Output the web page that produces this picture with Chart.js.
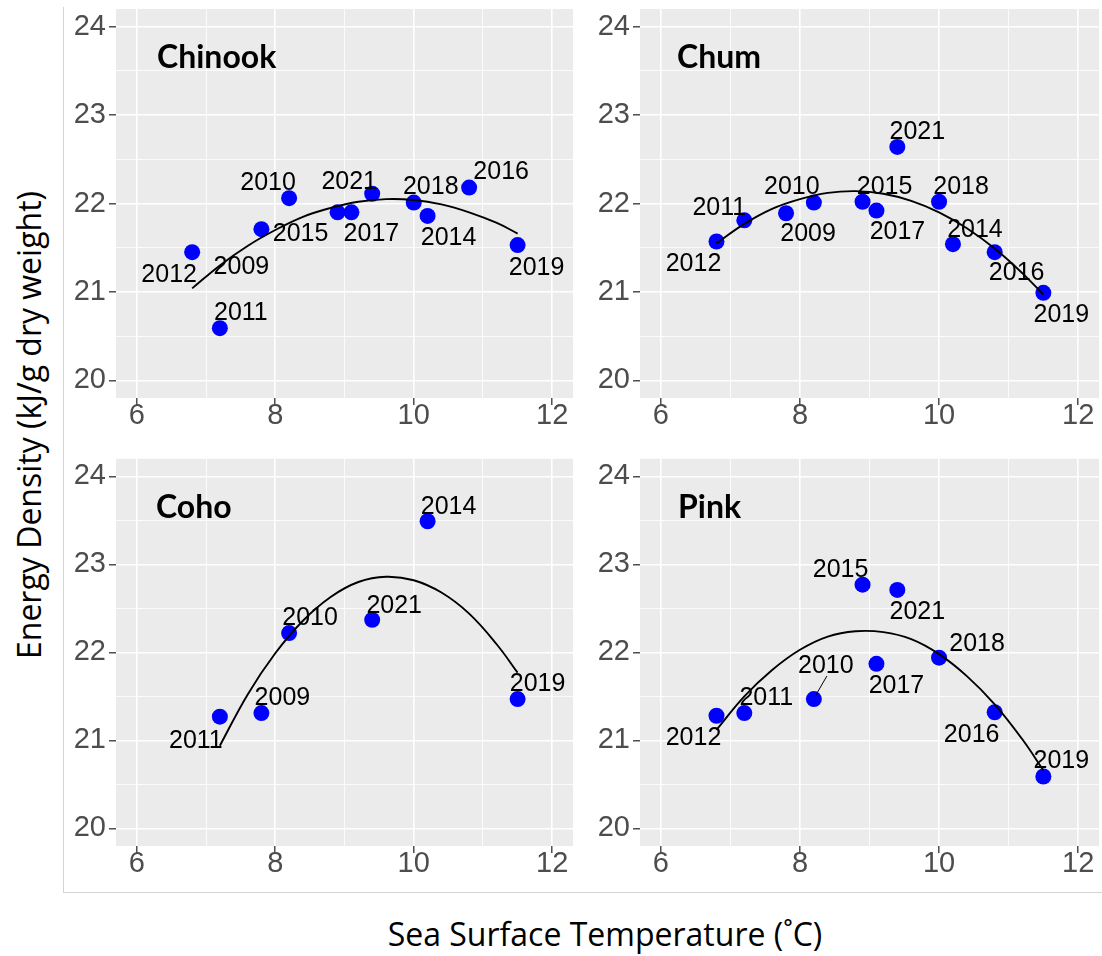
<!DOCTYPE html>
<html><head><meta charset="utf-8">
<script src="https://cdn.jsdelivr.net/npm/chart.js@4.4.1/dist/chart.umd.min.js"></script>
<style>
html,body{margin:0;padding:0;background:#fff;}
#wrap{position:relative;width:1102px;height:956px;overflow:hidden;background:#fff;}
canvas{position:absolute;}
.t{position:absolute;font-family:"Open Sans",Lato,sans-serif;color:#000;white-space:nowrap;line-height:1;}
</style></head><body>
<div id="wrap">
<div style="position:absolute;left:63px;top:7px;width:1px;height:886px;background:#d4d4d4"></div>
<div style="position:absolute;left:63px;top:892px;width:1039px;height:1px;background:#d4d4d4"></div>
<canvas id="c0" width="515" height="450" style="left:63px;top:0px"></canvas>
<canvas id="c1" width="524" height="450" style="left:578px;top:0px"></canvas>
<canvas id="c2" width="515" height="443" style="left:63px;top:450px"></canvas>
<canvas id="c3" width="524" height="443" style="left:578px;top:450px"></canvas>
<div class="t" style="left:29px;top:425px;font-size:32px;transform:translate(-50%,-50%) rotate(-90deg)">Energy Density (kJ/g dry weight)</div>
<div class="t" style="left:605px;top:934px;font-size:32px;transform:translate(-50%,-50%)">Sea Surface Temperature (˚C)</div>
</div>
<script>
// ---------------- data ----------------
const xTicks = [6, 7, 8, 9, 10, 11, 12];
const xTickLabels = ['6', '', '8', '', '10', '', '12'];
const yTicks = [20, 20.5, 21, 21.5, 22, 22.5, 23, 23.5, 24];
const yTickLabels = ['20', '', '21', '', '22', '', '23', '', '24'];

const chinookYears = [2009, 2010, 2011, 2012, 2014, 2015, 2016, 2017, 2018, 2019, 2021];
const chinookSST   = [7.8, 8.2, 7.2, 6.8, 10.2, 8.9, 10.8, 9.1, 10.0, 11.5, 9.4];
const chinookED    = [21.71, 22.06, 20.59, 21.45, 21.86, 21.90, 22.18, 21.90, 22.01, 21.53, 22.11];

const chumYears = [2009, 2010, 2011, 2012, 2014, 2015, 2016, 2017, 2018, 2019, 2021];
const chumSST   = [7.8, 8.2, 7.2, 6.8, 10.2, 8.9, 10.8, 9.1, 10.0, 11.5, 9.4];
const chumED    = [21.89, 22.01, 21.81, 21.57, 21.54, 22.02, 21.45, 21.92, 22.02, 20.99, 22.64];

const cohoYears = [2009, 2010, 2011, 2014, 2019, 2021];
const cohoSST   = [7.8, 8.2, 7.2, 10.2, 11.5, 9.4];
const cohoED    = [21.31, 22.22, 21.27, 23.49, 21.47, 22.37];

const pinkYears = [2010, 2011, 2012, 2015, 2016, 2017, 2018, 2019, 2021];
const pinkSST   = [8.2, 7.2, 6.8, 8.9, 10.8, 9.1, 10.0, 11.5, 9.4];
const pinkED    = [21.47, 21.31, 21.28, 22.77, 21.32, 21.87, 21.94, 20.59, 22.71];

// fitted curves
const fitSST     = [6.8, 7.2, 7.6, 8.0, 8.4, 8.8, 9.2, 9.6, 10.0, 10.4, 10.8, 11.2, 11.5];
const chinookFit = [21.04, 21.30, 21.52, 21.70, 21.85, 21.95, 22.02, 22.05, 22.04, 21.99, 21.90, 21.78, 21.66];
const chumFit    = [21.55, 21.77, 21.94, 22.05, 22.12, 22.14, 22.11, 22.03, 21.90, 21.72, 21.49, 21.21, 20.97];
const pinkFit    = [21.12, 21.50, 21.80, 22.03, 22.18, 22.24, 22.23, 22.15, 21.98, 21.73, 21.41, 21.01, 20.66];
const cohoFitSST = [7.2, 7.6, 8.0, 8.4, 8.8, 9.2, 9.6, 10.0, 10.4, 10.8, 11.2, 11.5];
const cohoFit    = [20.94, 21.52, 21.99, 22.36, 22.63, 22.80, 22.86, 22.82, 22.68, 22.44, 22.09, 21.77];

// ---------------- layout (label offsets in px from point) ----------------
const chinookLabelPos = {2012:[-23,22],2009:[-20,37],2011:[21,-16],2015:[-37,21],2010:[-21,-16],2021:[-23,-13],2017:[20,21],2018:[17,-17],2014:[21,21],2016:[32,-16],2019:[19,22]};
const chumLabelPos = {2012:[-23,22],2011:[-25,-13],2009:[22,20],2010:[-22,-17],2015:[22,-16],2017:[21,21],2021:[20,-16],2018:[22,-16],2014:[22,-15],2016:[22,20],2019:[18,21]};
const cohoLabelPos = {2011:[-24,23],2009:[21,-16],2010:[21,-16],2021:[22,-15],2014:[21,-15],2019:[20,-16]};
const pinkLabelPos = {2012:[-23,21],2011:[22,-16],2010:[12,-34],2015:[-22,-16],2021:[20,21],2017:[20,21],2018:[38,-15],2016:[-23,22],2019:[18,-16]};

const X_TICK_FONT = {family:'"Liberation Sans", Arial, sans-serif', size:29};
const Y_TICK_FONT = {family:'"Liberation Sans", Arial, sans-serif', size:29, lineHeight:0.4};
const isMajorX = c => c.tick ? xTickLabels[xTicks.indexOf(c.tick.value)] !== '' : true;
const isMajorY = c => c.tick ? yTickLabels[yTicks.indexOf(c.tick.value)] !== '' : true;

const panelPlugin = {
  id: 'panel',
  beforeDraw(chart) {
    const a = chart.chartArea, ctx = chart.ctx;
    ctx.save();
    ctx.fillStyle = '#EBEBEB';
    ctx.fillRect(a.left, a.top, a.right - a.left, a.bottom - a.top);
    ctx.restore();
  },
  afterDatasetsDraw(chart) {
    const o = chart.options.plugins.panel;
    const ctx = chart.ctx, a = chart.chartArea;
    const meta = chart.getDatasetMeta(1);
    ctx.save();
    ctx.fillStyle = '#000';
    ctx.strokeStyle = '#000';
    ctx.font = '25px "Liberation Sans", Arial, sans-serif';
    ctx.textAlign = 'center';
    ctx.textBaseline = 'middle';
    meta.data.forEach((pt, j) => {
      const yr = o.years[j];
      const off = o.labelPos[yr] || [20, -16];
      if (o.segments && o.segments[yr]) {
        ctx.lineWidth = 1;
        ctx.beginPath();
        ctx.moveTo(pt.x + 2, pt.y - 4);
        ctx.lineTo(pt.x + off[0] + 1, pt.y + off[1] + 11);
        ctx.stroke();
      }
      ctx.fillText(String(yr), pt.x + off[0], pt.y + off[1] + 1);
    });
    ctx.font = 'bold 32px Lato, "Open Sans", sans-serif';
    ctx.textAlign = 'left';
    ctx.fillText(o.title, a.left + o.titleDx, a.top + 49);
    ctx.restore();
  }
};

function makePanel(id, cfg) {
  const canvas = document.getElementById(id);
  const W = canvas.width, H = canvas.height;
  return new Chart(canvas, {
    type: 'scatter',
    data: {
      datasets: [
        { data: cfg.fitX.map((x, i) => ({x, y: cfg.fitY[i]})), showLine: true, borderColor: '#000', borderWidth: 1.9,
          pointRadius: 0, tension: 0.4, fill: false, order: 0 },
        { data: cfg.sst.map((x, i) => ({x, y: cfg.ed[i]})), backgroundColor: '#0000FF', borderWidth: 0,
          pointRadius: 8, order: 1 }
      ]
    },
    options: {
      responsive: false, animation: false, devicePixelRatio: 1,
      layout: { autoPadding: false, padding: { left: 0, top: cfg.area.top, right: W - cfg.area.right, bottom: 0 } },
      plugins: {
        legend: { display: false }, tooltip: { enabled: false },
        panel: { years: cfg.years, labelPos: cfg.labelPos, title: cfg.title, titleDx: cfg.titleDx, segments: cfg.segments }
      },
      events: [],
      scales: {
        x: {
          type: 'linear', min: 5.7, max: 12.3,
          afterBuildTicks: s => { s.ticks = xTicks.map(v => ({value: v})); },
          afterFit: s => { s.height = H - cfg.area.bottom; },
          ticks: { autoSkip: false, maxRotation: 0, minRotation: 0, padding: -6, color: '#4D4D4D', font: X_TICK_FONT,
                   callback: (v, i) => xTickLabels[i] },
          grid: { color: '#FFFFFF', lineWidth: c => isMajorX(c) ? 1.6 : 0.8, tickLength: 7, tickWidth: 1.3,
                  tickColor: c => isMajorX(c) ? '#333333' : 'rgba(0,0,0,0)' },
          border: { display: false }
        },
        y: {
          type: 'linear', min: 19.8, max: 24.2,
          afterBuildTicks: s => { s.ticks = yTicks.map(v => ({value: v})); },
          afterFit: s => { s.width = cfg.area.left; },
          ticks: { autoSkip: false, padding: 3, color: '#4D4D4D', font: Y_TICK_FONT,
                   callback: (v, i) => yTickLabels[i] },
          grid: { color: '#FFFFFF', lineWidth: c => isMajorY(c) ? 1.6 : 0.8, tickLength: 7, tickWidth: 1.3,
                  tickColor: c => isMajorY(c) ? '#333333' : 'rgba(0,0,0,0)' },
          border: { display: false }
        }
      }
    },
    plugins: [panelPlugin]
  });
}

makePanel('c0', { title: 'Chinook', titleDx: 41, years: chinookYears, sst: chinookSST, ed: chinookED, fitX: fitSST, fitY: chinookFit,
  labelPos: chinookLabelPos, area: { left: 53, top: 9, right: 510, bottom: 398 } });
makePanel('c1', { title: 'Chum', titleDx: 37, years: chumYears, sst: chumSST, ed: chumED, fitX: fitSST, fitY: chumFit,
  labelPos: chumLabelPos, area: { left: 62, top: 9, right: 521, bottom: 398 } });
makePanel('c2', { title: 'Coho', titleDx: 40, years: cohoYears, sst: cohoSST, ed: cohoED, fitX: cohoFitSST, fitY: cohoFit,
  labelPos: cohoLabelPos, area: { left: 53, top: 6, right: 510, bottom: 396 } });
makePanel('c3', { title: 'Pink', titleDx: 38, years: pinkYears, sst: pinkSST, ed: pinkED, fitX: fitSST, fitY: pinkFit,
  labelPos: pinkLabelPos, segments: {2010: true}, area: { left: 62, top: 6, right: 521, bottom: 396 } });
</script>
</body></html>
